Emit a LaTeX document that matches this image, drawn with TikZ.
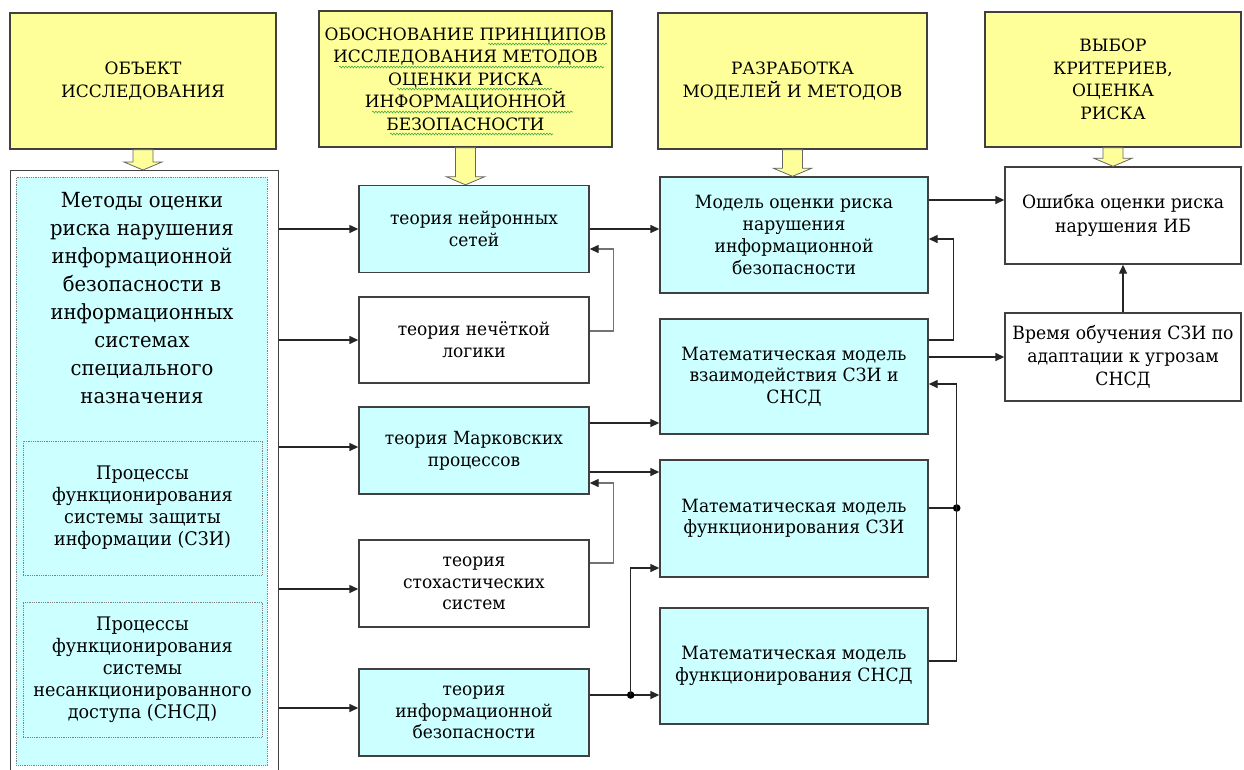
\documentclass[tikz,border=0pt]{standalone}
\usepackage{fontspec}
\setmainfont{DejaVu Serif}[Scale=0.85, FakeStretch=0.94]
\newfontfamily\hdrfont{DejaVu Serif}[Scale=0.85]
\usetikzlibrary{arrows.meta,calc,decorations.pathmorphing}

\definecolor{hdr}{HTML}{FFFF99}
\definecolor{cyanbox}{HTML}{CCFFFF}
\definecolor{squig}{HTML}{44AA44}

% yellow block arrow from a header down to a box
\newcommand{\fatarrow}[2]{%
	\path[draw=black!60, fill=hdr, line width=0.8pt] let \p1=(#1.south), \p2=(#2.north) in
	(\x1-10pt,\y1) -- (\x1+10pt,\y1) -- (\x1+10pt,\y2+8pt) -- (\x1+19pt,\y2+8pt)
	-- (\x1,\y2) -- (\x1-19pt,\y2+8pt) -- (\x1-10pt,\y2+8pt) -- cycle;}

\begin{document}
\begin{tikzpicture}[x=1pt, y=-1pt, font=\fontsize{21.3}{21.7}\selectfont,
	hdrbox/.style={draw=black!75, line width=1.2pt, fill=hdr, align=center, inner sep=2pt,
		font=\hdrfont\fontsize{20}{22.5}\selectfont},
	cbox/.style={draw=black!75, line width=1.4pt, fill=cyanbox, align=center, inner sep=2pt},
	wbox/.style={cbox, fill=white},
	dotbox/.style={draw=black!50, densely dotted, line width=0.8pt, fill=cyanbox, align=center,
		font=\fontsize{22}{22}\selectfont},
	arr/.style={draw=black!85, line width=1.4pt, -{Triangle[length=9pt,width=8pt,color=black!85]}},
	fb/.style={arr, draw=black!55},
	wavy/.style={draw=squig, line width=0.6pt, decorate, decoration={snake, amplitude=0.9pt, segment length=3pt}}]
	\fill[white] (0,0) rectangle (1244,769);
	\useasboundingbox (0,0) rectangle (1244,769);
	%headers
	\node[hdrbox, minimum width=266pt, minimum height=136pt, font=\hdrfont\fontsize{20}{23.3}\selectfont] (h1) at (143,81) {ОБЪЕКТ\\ИССЛЕДОВАНИЯ};
	\node[hdrbox, minimum width=293pt, minimum height=136pt] (h2) at (465.5,79)
	{ОБОСНОВАНИЕ ПРИНЦИПОВ\\ИССЛЕДОВАНИЯ МЕТОДОВ\\ОЦЕНКИ РИСКА\\ИНФОРМАЦИОННОЙ\\БЕЗОПАСНОСТИ};
	\node[hdrbox, minimum width=269pt, minimum height=136pt, font=\hdrfont\fontsize{20}{23.3}\selectfont] (h3) at (792.5,81) {РАЗРАБОТКА\\МОДЕЛЕЙ И МЕТОДОВ};
	\node[hdrbox, minimum width=256pt, minimum height=135pt] (h4) at (1113,79.5) {ВЫБОР\\КРИТЕРИЕВ,\\ОЦЕНКА\\РИСКА};
	%spell-check marks
	\draw[wavy] (488,44) -- (607,44);
	\draw[wavy] (339,67) -- (604,67);
	\draw[wavy] (397,89) -- (552,89);
	\draw[wavy] (372,112) -- (573,112);
	\draw[wavy] (390,134) -- (553,134);
	%object of research
	\node[draw=black!75, line width=1.2pt, anchor=north west, minimum width=268pt, minimum height=605pt] (obj) at (10,170) {};
	\node[dotbox, anchor=north west, minimum width=251pt, minimum height=588pt] (objin) at (16,177) {};
	\node[align=center, font=\fontsize{24.5}{28}\selectfont] (objtxt) at (142,298)
	{Методы оценки\\риска нарушения\\информационной\\безопасности в\\информационных\\системах\\специального\\назначения};
	\node[dotbox, minimum width=239pt, minimum height=134pt] (szip) at (142.5,508)
	{Процессы\\функционирования\\системы защиты\\информации (СЗИ)};
	\node[dotbox, minimum width=239pt, minimum height=135pt] (snsdp) at (142.5,669.5)
	{Процессы\\функционирования\\системы\\несанкционированного\\доступа (СНСД)};
	%theories
	\node[cbox, minimum width=230pt, minimum height=87pt] (neuro) at (474,229) {теория нейронных\\сетей};
	\node[wbox, minimum width=230pt, minimum height=86pt] (fuzzy) at (474,340) {теория нечёткой\\логики};
	\node[cbox, minimum width=230pt, minimum height=87pt] (markov) at (474,450.5) {теория Марковских\\процессов};
	\node[wbox, minimum width=230pt, minimum height=87pt] (stoch) at (474,583.5) {теория\\стохастических\\систем};
	\node[cbox, minimum width=230pt, minimum height=87pt] (infosec) at (474,712.5) {теория\\информационной\\безопасности};
	%models
	\node[cbox, minimum width=268pt, minimum height=116pt, font=\fontsize{21.5}{21.7}\selectfont] (model) at (794,235)
	{Модель оценки риска\\нарушения\\информационной\\безопасности};
	\node[cbox, minimum width=268pt, minimum height=115pt, font=\fontsize{21.5}{21.7}\selectfont] (inter) at (794,376.5)
	{Математическая модель\\взаимодействия СЗИ и\\СНСД};
	\node[cbox, minimum width=268pt, minimum height=117pt, font=\fontsize{21.5}{21.7}\selectfont] (szi) at (794,518.5)
	{Математическая модель\\функционирования СЗИ};
	\node[cbox, minimum width=268pt, minimum height=116pt, font=\fontsize{21.5}{21.7}\selectfont] (snsd) at (794,666)
	{Математическая модель\\функционирования СНСД};
	%criteria
	\node[wbox, minimum width=236pt, minimum height=97pt, font=\fontsize{21.5}{23.3}\selectfont] (err) at (1123,215.5) {Ошибка оценки риска\\нарушения ИБ};
	\node[wbox, minimum width=236pt, minimum height=88pt, font=\fontsize{21.5}{23.3}\selectfont] (time) at (1123,357)
	{Время обучения СЗИ по\\адаптации к угрозам\\СНСД};
	%block arrows
	\fatarrow{h1}{obj}
	\fatarrow{h2}{neuro}
	\fatarrow{h3}{model}
	\fatarrow{h4}{err}
	%arrows from the object
	\foreach \n/\s in {neuro/0pt, fuzzy/0pt, markov/3.5pt, stoch/-5.5pt, infosec/4.5pt}{
		\coordinate (t) at ([yshift=\s]\n.west);
		\draw[arr] (t -| obj.east) -- (t);
	}
	%theories to models
	\draw[arr] (neuro.east) -- (neuro.east -| model.west);
	\draw[fb] ([yshift=9pt]fuzzy.east) -- ++(24,0) |- ([yshift=-20pt]neuro.east);
	\coordinate (m1) at ([yshift=27.5pt]markov.east);
	\draw[arr] (m1) -- (m1 -| inter.west);
	\coordinate (m2) at ([yshift=-21.5pt]markov.east);
	\draw[arr] (m2) -- (m2 -| szi.west);
	\draw[fb] ([yshift=20.5pt]stoch.east) -- ++(24,0) |- ([yshift=-32.5pt]markov.east);
	\coordinate (i1) at ([yshift=17.5pt]infosec.east);
	\draw[arr] (i1) -- (i1 -| snsd.west);
	\coordinate (j1) at ([xshift=41pt]i1);
	\fill (j1) circle (3.8);
	\draw[arr] (j1) |- ([yshift=-49.5pt]szi.west);
	%models to criteria
	\coordinate (e1) at ([yshift=35pt]model.east);
	\draw[arr] (e1) -- (e1 -| err.west);
	\draw[arr] ([yshift=36.5pt]inter.east) -- ++(25,0) |- ([yshift=-4pt]model.east);
	\draw[arr] (time.west -| inter.east) -- (time.west);
	\draw[arr] (time.north) -- (err.south);
	\coordinate (j2) at ([xshift=28pt,yshift=10.5pt]szi.east);
	\draw[draw=black!85, line width=1.4pt] ([yshift=10.5pt]szi.east) -- (j2);
	\fill (j2) circle (3.8);
	\draw[arr] ([yshift=5pt]snsd.east) -| (j2) |- ([yshift=-7.5pt]inter.east);
\end{tikzpicture}
\end{document}
